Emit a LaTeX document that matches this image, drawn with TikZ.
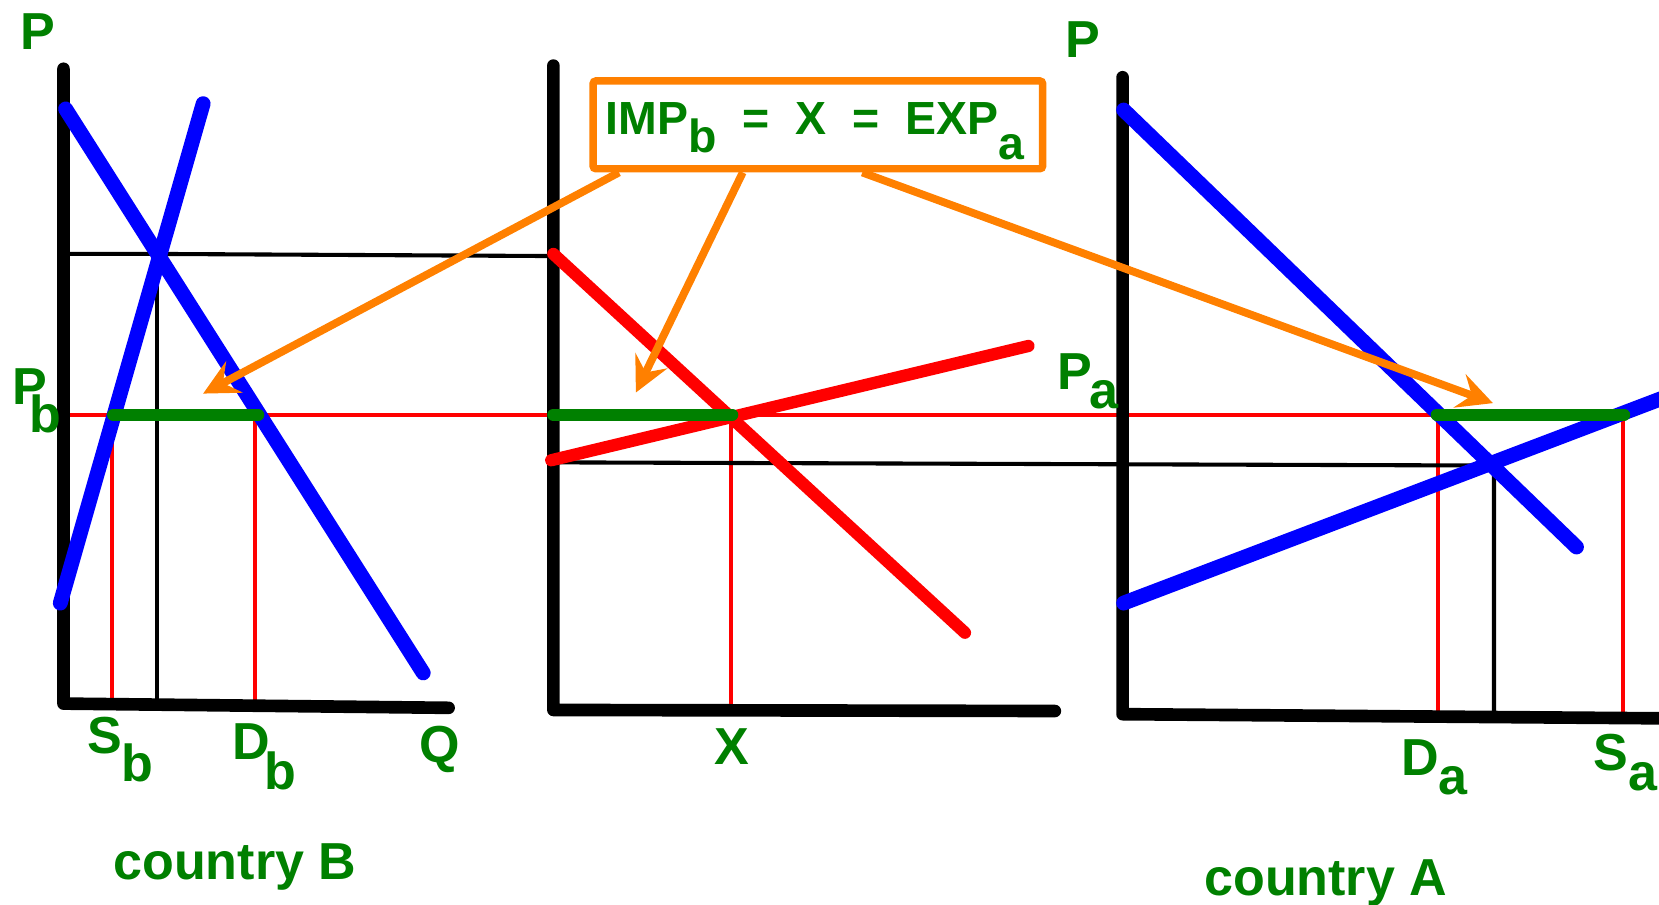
\documentclass[tikz,border=0pt]{standalone}
\usepackage{fontspec}
\setmainfont{Liberation Sans}
\usetikzlibrary{arrows.meta}
\definecolor{dgreen}{RGB}{0,128,0}
\definecolor{myorange}{RGB}{255,128,0}
\newcommand{\lowr}[2]{\raisebox{-#1}{#2}}
\begin{document}
\begin{tikzpicture}[x=0.02cm,y=-0.02cm,
  axis/.style={line width=6.8pt, line cap=round, line join=round, black},
  curveb/.style={line width=8pt, line cap=round, blue},
  curver/.style={line width=6.6pt, line cap=round, red},
  seg/.style={line width=6.6pt, line cap=round, dgreen},
  thinb/.style={line width=2.2pt, black},
  thinr/.style={line width=2.2pt, red},
  arr/.style={line width=4.2pt, myorange, -{Stealth[length=19pt,width=19pt,inset=7pt]}},
  lab/.style={text=dgreen, font=\fontsize{28}{32}\selectfont\bfseries, inner sep=0pt},
  eqlab/.style={text=dgreen, font=\fontsize{25}{30}\selectfont\bfseries, inner sep=0pt},
]
\useasboundingbox (0,0) rectangle (1568,855);
\clip (0,0) rectangle (1568,855);

% key points
\coordinate (eB) at (148,240);
\coordinate (eA) at (1412,440);
\coordinate (t1) at (192,372);
\coordinate (t2) at (601,371);
\coordinate (t3) at (1411,381);

% thin guide lines
\draw[thinr] (62,392) -- (1358,392);
\draw[thinr] (106,392) -- (106,665);
\draw[thinr] (241,392) -- (241,668);
\draw[thinr] (691,392) -- (691,671);
\draw[thinr] (1359,392) -- (1359,675);
\draw[thinr] (1534,392) -- (1534,677);
\draw[thinb] (65,240) -- (eB) -- (522,242);
\draw[thinb] (eB) -- (148,663);
\draw[thinb] (523,437) -- (eA) -- (1412,673);

% axes
\draw[axis] (60,65) -- (60,665) -- (424,669);
\draw[axis] (523,62) -- (523,671) -- (997,672);
\draw[axis] (1061,73) -- (1061,675) -- (1580,679);

% curves
\draw[curveb] (62,103) -- (400,636);
\draw[curveb] (57,570) -- (192,98);
\draw[curver] (523,240) -- (912,598);
\draw[curver] (521,435) -- (972,327);
\draw[curveb] (1062,104) -- (1490,517);
\draw[curveb] (1062,570) -- (1580,373);

% trade volumes
\draw[seg] (107,392) -- (244,392);
\draw[seg] (523,392) -- (692,392);
\draw[seg] (1358,392) -- (1535,392);

% box
\node[draw=myorange, line width=4pt, minimum width=8.5cm, minimum height=1.66cm,
      inner sep=0pt, rounded corners=1.5pt] (box) at (773,118) {};
\node[eqlab, anchor=base west] (eq) at (572,127)
  {IMP\lowr{0.4em}{b}~~=~~X~~=~~EXP\lowr{0.55em}{a}};

% arrows
\draw[arr] ([xshift=0.56cm]box.south west) -- (t1);
\draw[arr] ([xshift=2.9cm]box.south west) -- (t2);
\draw[arr] ([xshift=5.16cm]box.south west) -- (t3);

% labels
\node[lab] (PBl) at (36,30) {P};
\node[lab] (PAl) at (1023,37) {P};
\node[lab, anchor=base west] (Pb) at (11,382) {P\hspace{-0.33em}\lowr{0.55em}{b}};
\node[lab, anchor=base west] (Sb) at (82,712) {S\lowr{0.55em}{b}};
\node[lab, anchor=base west] (Db) at (219,718) {D\hspace{-0.1em}\lowr{0.57em}{b}};
\node[lab] (Q) at (416,708) {Q};
\node[lab] (X) at (692,706) {X};
\node[lab, anchor=base west] (Pa) at (999,368) {P\hspace{-0.05em}\lowr{0.36em}{a}};
\node[lab, anchor=base west] (Da) at (1324,733) {D\lowr{0.36em}{a}};
\node[lab, anchor=base west] (Sa) at (1506,728) {S\lowr{0.38em}{a}};
\node[lab, anchor=base] (cB) at (222,831) {country B};
\node[lab, anchor=base] (cA) at (1253,846) {country A};
\end{tikzpicture}
\end{document}
